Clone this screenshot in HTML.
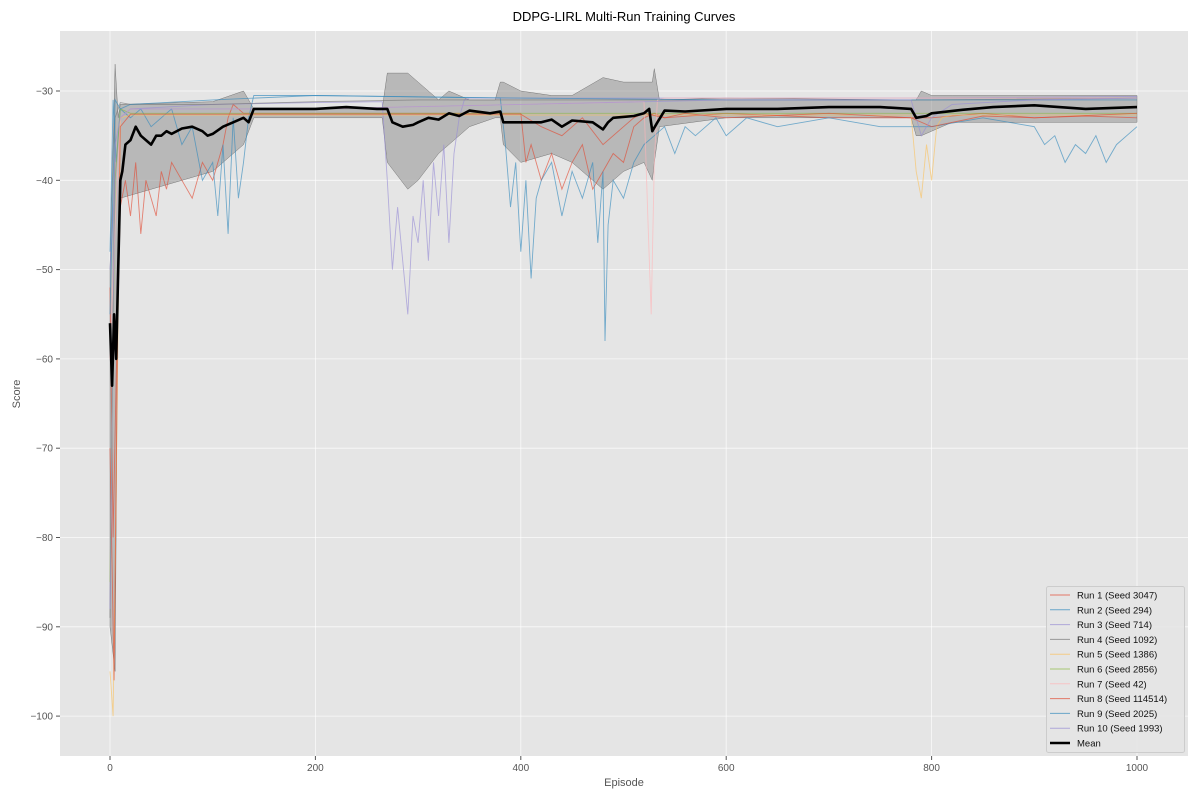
<!DOCTYPE html>
<html><head><meta charset="utf-8"><style>
body{margin:0;background:#fff;font-family:"Liberation Sans","DejaVu Sans",sans-serif}
svg text{font-family:"Liberation Sans","DejaVu Sans",sans-serif}
</style></head><body>
<svg id="c" width="1199" height="799" xmlns="http://www.w3.org/2000/svg"></svg>
<script>
const xTicks=[0,200,400,600,800,1000];
const yTicks=[-30,-40,-50,-60,-70,-80,-90,-100];
const runLabels=["Run 1 (Seed 3047)","Run 2 (Seed 294)","Run 3 (Seed 714)","Run 4 (Seed 1092)","Run 5 (Seed 1386)","Run 6 (Seed 2856)","Run 7 (Seed 42)","Run 8 (Seed 114514)","Run 9 (Seed 2025)","Run 10 (Seed 1993)"];
const runColors=["#E24A33","#348ABD","#988ED5","#777777","#FBC15E","#8EBA42","#FFB5B8","#E24A33","#348ABD","#988ED5"];
const run1Ep=[0,3,6,10,15,20,25,30,35,40,45,50,55,60,70,80,90,100,110,115,120,130,140,200,400,405,410,420,430,440,450,460,470,480,490,500,510,520,530,540,600,700,800,850,900,950,1000];
const run1Val=[-52,-80,-62,-43,-40,-44,-38,-46,-40,-42,-44,-39,-41,-38,-40,-42,-38,-40,-36,-33,-31.5,-32.5,-32.5,-32.5,-32.5,-38,-36,-40,-37,-41,-38,-36,-41,-39,-37,-38,-34,-33,-32.5,-33,-32.5,-33,-33,-32.5,-33,-32.8,-33];
const run2Ep=[0,3,6,10,20,30,40,50,60,70,80,90,100,105,110,115,120,125,130,135,140,200,380,385,390,395,400,405,410,415,420,430,440,450,460,470,475,480,482,485,490,500,510,520,530,540,550,560,570,580,590,600,620,650,700,750,800,850,900,910,920,930,940,950,960,970,980,990,1000];
const run2Val=[-48,-31,-38,-32,-33,-32,-34,-33,-32,-36,-34,-40,-38,-44,-36,-46,-33,-42,-38,-33,-30.5,-30.5,-30.8,-36,-43,-38,-48,-40,-51,-42,-40,-38,-44,-39,-42,-38,-47,-39,-58,-45,-40,-42,-38,-36,-35,-34,-37,-34,-35,-34,-33,-35,-33,-34,-33,-34,-34,-33,-34,-36,-35,-38,-36,-37,-35,-38,-36,-35,-34];
const run3Ep=[0,5,10,20,100,200,265,270,275,280,285,290,295,300,305,310,315,320,325,330,335,340,345,350,400,800,1000];
const run3Val=[-50,-40,-33,-32,-31.5,-31.3,-31.2,-40,-50,-43,-49,-55,-44,-47,-40,-49,-38,-44,-36,-47,-37,-33,-31,-30.8,-30.8,-30.8,-30.6];
const run4Ep=[0,5,10,20,100,200,300,400,600,800,1000];
const run4Val=[-89,-33,-31.3,-31.5,-31.5,-31.2,-31,-31,-31,-31,-30.8];
const run5Ep=[0,3,6,10,20,200,500,780,785,790,795,800,805,810,820,1000];
const run5Val=[-95,-100,-75,-33,-32.7,-32.7,-32.7,-32.7,-39,-42,-36,-40,-34,-33,-32.7,-32.7];
const run6Ep=[0,5,10,20,200,600,1000];
const run6Val=[-85,-40,-32,-32.5,-32.5,-32.5,-32.5];
const run7Ep=[0,5,10,20,200,400,520,524,527,530,533,540,600,1000];
const run7Val=[-60,-45,-33,-32,-32,-31.5,-31.2,-45,-55,-38,-31,-30.8,-30.8,-30.8];
const run8Ep=[0,4,8,10,20,200,400,420,440,460,480,500,510,520,540,560,600,700,780,800,850,900,1000];
const run8Val=[-70,-96,-50,-34,-32.6,-32.6,-32.6,-34,-35,-33,-36,-34,-33,-32.5,-33,-32.5,-33,-32.5,-33,-34,-32.8,-33,-32.5];
const run9Ep=[0,5,10,20,100,200,400,600,800,1000];
const run9Val=[-55,-31,-32,-31.5,-31,-30.5,-30.8,-31,-31,-31];
const run10Ep=[0,5,10,20,100,200,400,600,780,790,800,820,900,1000];
const run10Val=[-88,-36,-33,-32,-32,-32,-31.5,-31,-31,-35,-33,-31.5,-31,-30.8];
const runEps=[run1Ep,run2Ep,run3Ep,run4Ep,run5Ep,run6Ep,run7Ep,run8Ep,run9Ep,run10Ep];
const runVals=[run1Val,run2Val,run3Val,run4Val,run5Val,run6Val,run7Val,run8Val,run9Val,run10Val];
const meanEp=[0,2,4,6,8,10,12,15,20,25,30,35,40,45,50,55,60,70,80,90,95,100,110,120,130,135,140,150,200,230,260,270,275,285,295,300,310,320,330,340,350,370,380,383,400,420,430,440,450,470,480,485,490,510,520,525,528,533,540,560,600,650,700,750,780,785,795,800,830,860,900,950,1000];
const meanVal=[-56,-63,-55,-60,-50,-40,-39,-36,-35.5,-34,-35,-35.5,-36,-35,-35,-34.5,-34.8,-34.2,-34,-34.5,-35,-34.8,-34,-33.5,-33,-33.5,-32,-32,-32,-31.8,-32,-32,-33.5,-34,-33.8,-33.5,-33,-33.2,-32.5,-32.8,-32.2,-32.5,-32.3,-33.5,-33.5,-33.5,-33.2,-34,-33.3,-33.5,-34.3,-33.5,-33,-32.8,-32.5,-32,-34.5,-33.5,-32.2,-32.3,-32,-32,-31.8,-31.8,-32,-33,-32.8,-32.5,-32.1,-31.8,-31.6,-32,-31.8];
const bandEp=[0,5,8,10,100,130,140,265,270,290,300,320,330,350,375,380,383,400,430,450,480,500,520,528,530,535,600,780,785,790,800,820,900,1000];
const bandHi=[-50,-27,-33,-31.5,-31.2,-30,-32,-32,-28,-28,-29,-31,-30,-31,-31,-29,-29,-30,-30.5,-30.5,-28.5,-29,-29,-29,-27.5,-31,-30.8,-31,-31,-30,-30.5,-30.5,-30.5,-30.5];
const bandLo=[-90,-95,-48,-42,-39,-36,-33,-33,-38,-41,-40,-37,-36,-34,-33,-33,-36,-38,-37,-38,-41,-39,-38,-40,-38,-34,-33,-33,-35,-35,-34.5,-33.5,-33.5,-33.5];

const NS="http://www.w3.org/2000/svg";
const svg=document.getElementById('c');
const L=60,T=31,R=1188,B=756;
const X=e=>110+e*1.027;
const Y=v=>91+(-30-v)*8.93;
function mk(tag,attrs,parent){const el=document.createElementNS(NS,tag);for(const k in attrs)el.setAttribute(k,attrs[k]);(parent||svg).appendChild(el);return el;}

const bg=mk('rect',{x:L,y:T,width:R-L,height:B-T,fill:'#E5E5E5'});



xTicks.forEach(t=>{
  const g=mk('line',{x1:X(t),x2:X(t),y1:T,y2:B,stroke:'#fff','stroke-width':0.8,opacity:0.8});
  
  
  const tk=mk('line',{x1:X(t),x2:X(t),y1:B,y2:B+4,stroke:'#555'});
  
  
  const tx=mk('text',{x:X(t),y:B+15,'text-anchor':'middle','font-size':10,fill:'#555'});
  tx.textContent=t;
  
  
});
yTicks.forEach(t=>{
  const g=mk('line',{x1:L,x2:R,y1:Y(t),y2:Y(t),stroke:'#fff','stroke-width':0.8,opacity:0.8});
  
  
  const tk=mk('line',{x1:L-4,x2:L,y1:Y(t),y2:Y(t),stroke:'#555'});
  
  
  const tx=mk('text',{x:L-7,y:Y(t)+3.5,'text-anchor':'end','font-size':10,fill:'#555'});
  tx.textContent='\u2212'+Math.abs(t);
  
  
});

let bp='';
bandEp.forEach((e,i)=>{bp+=(i?'L':'M')+X(e).toFixed(1)+','+Y(bandHi[i]).toFixed(1);});
for(let i=bandEp.length-1;i>=0;i--)bp+='L'+X(bandEp[i]).toFixed(1)+','+Y(bandLo[i]).toFixed(1);
const band=mk('path',{d:bp+'Z',fill:'#808080','fill-opacity':0.45,stroke:'#777','stroke-width':0.5});



runVals.forEach((vals,r)=>{
  const pts=runEps[r].map((e,i)=>X(e).toFixed(1)+','+Y(vals[i]).toFixed(1)).join(' ');
  const pl=mk('polyline',{points:pts,fill:'none',stroke:runColors[r],'stroke-width':0.9,opacity:0.65});
  
  
});

const mpts=meanEp.map((e,i)=>X(e).toFixed(1)+','+Y(meanVal[i]).toFixed(1)).join(' ');
const ml=mk('polyline',{points:mpts,fill:'none',stroke:'#000','stroke-width':2.6,'stroke-linejoin':'round'});



const title=mk('text',{x:624,y:21,'text-anchor':'middle','font-size':13,fill:'#000'});
title.textContent='DDPG-LIRL Multi-Run Training Curves';


const xl=mk('text',{x:624,y:786,'text-anchor':'middle','font-size':11,fill:'#555'});
xl.textContent='Episode';


const yl=mk('text',{x:20,y:394,'text-anchor':'middle','font-size':11,fill:'#555',transform:'rotate(-90 20 394)'});
yl.textContent='Score';



const lg=mk('g',{});


mk('rect',{x:1046.5,y:586.5,width:138,height:166,rx:2,fill:'#E5E5E5','fill-opacity':0.85,stroke:'#ccc'},lg);
runLabels.concat(['Mean']).forEach((lab,i)=>{
  const yy=595+i*14.8;
  const isMean=i===10;
  const ent=mk('g',{},lg);
  
  
  mk('line',{x1:1050,x2:1070,y1:yy,y2:yy,stroke:isMean?'#000':runColors[i],'stroke-width':isMean?2.6:1,opacity:isMean?1:0.7},ent);
  const t=mk('text',{x:1077,y:yy+3.5,'font-size':9.5,fill:'#111'},ent);
  t.textContent=lab;
});
</script>
</body></html>
